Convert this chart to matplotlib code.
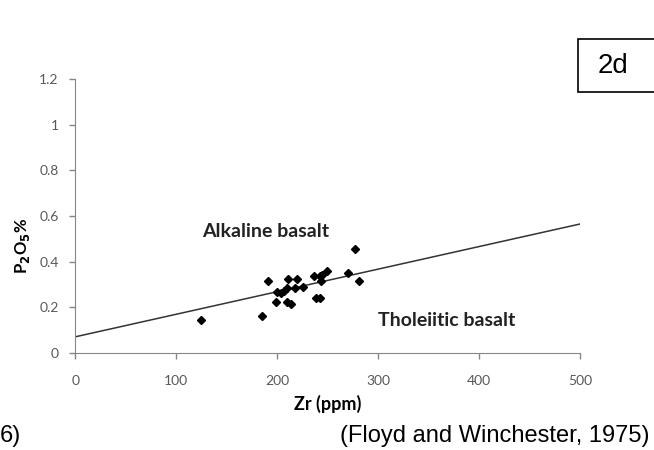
import matplotlib
matplotlib.use("Agg")
from matplotlib import pyplot as plt
from matplotlib.patches import Rectangle

# Zr (ppm) vs P2O5 (%) samples
zr = [125, 185, 191, 199, 200, 204, 207, 210, 211, 210, 214, 218,
      220, 226, 236, 242, 244, 249, 243, 238, 242, 270, 277, 281]
p2o5 = [0.145, 0.162, 0.313, 0.222, 0.268, 0.262, 0.27, 0.283, 0.325, 0.222, 0.216, 0.283,
        0.325, 0.29, 0.335, 0.335, 0.342, 0.36, 0.313, 0.24, 0.24, 0.352, 0.455, 0.313]

# discrimination line (Floyd and Winchester, 1975)
line_zr = [0, 500]
line_p = [0.07, 0.565]

xticks = [0, 100, 200, 300, 400, 500]
yticks = [0, 0.2, 0.4, 0.6, 0.8, 1, 1.2]
yticklabels = ['0', '0.2', '0.4', '0.6', '0.8', '1', '1.2']

plt.rcParams['font.family'] = ['Lato', 'DejaVu Sans']

fig = plt.figure(figsize=(6.54, 4.5), dpi=100)
ax = fig.add_axes([0.115, 0.216, 0.772, 0.608])

ax.plot(line_zr, line_p, color='#333333', lw=1.1)
ax.plot(zr, p2o5, 'D', color='black', markersize=4.2, ls='none')

ax.set_xlim(0, 500)
ax.set_ylim(0, 1.2)
ax.set_xticks(xticks)
ax.set_yticks(yticks)
ax.set_yticklabels(yticklabels)
ax.tick_params(colors='#868686', labelcolor='#595959', labelsize=10, length=4, width=1)
ax.tick_params(axis='x', pad=12)
ax.tick_params(axis='y', pad=8)
for s in ['top', 'right']:
    ax.spines[s].set_visible(False)
for s in ['left', 'bottom']:
    ax.spines[s].set_color('#868686')

ax.set_xlabel('Zr (ppm)', fontsize=13, fontweight='bold', labelpad=6)
ax.set_ylabel('P$_\\mathbf{2}$O$_\\mathbf{5}$%', fontsize=12, fontweight='bold')
ax.yaxis.set_label_coords(-0.085, 0.39)

ax.text(126, 0.53, 'Alkaline basalt', fontsize=14, fontweight='bold', va='center', color='#222222')
ax.text(300, 0.14, 'Tholeiitic basalt', fontsize=14, fontweight='bold', va='center', color='#222222')

# panel tag box, running off the right edge
fig.patches.append(Rectangle((0.884, 0.796), 0.2, 0.118, transform=fig.transFigure,
                             fc='white', ec='black', lw=1.2, clip_on=False))
fig.text(0.937, 0.853, '2d', fontsize=20, family='Liberation Sans', ha='center', va='center')

# caption line, cut by the bottom edge as in the source scan
fig.text(0.0, 0.055, '6)', fontsize=17, family='Liberation Sans', va='top')
fig.text(0.52, 0.055, '(Floyd and Winchester, 1975)', fontsize=17, family='Liberation Sans',
         va='top')

fig.savefig('out.png', dpi=100)
